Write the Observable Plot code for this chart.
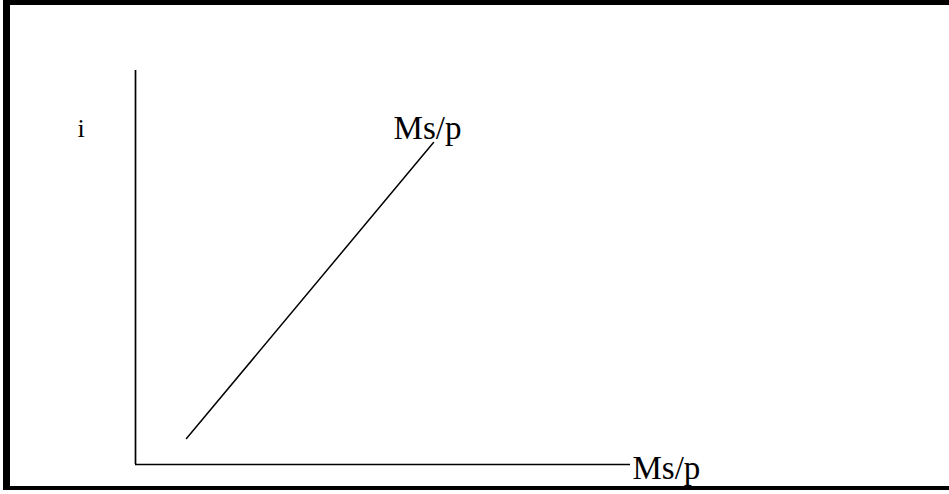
<!DOCTYPE html>
<html>
<head>
<meta charset="utf-8">
<script src="https://cdn.jsdelivr.net/npm/d3@7"></script>
<script src="https://cdn.jsdelivr.net/npm/@observablehq/plot@0.6"></script>
<style>
  html, body { margin: 0; padding: 0; background: #fff; }
  #wrap { position: relative; width: 949px; height: 494px; overflow: hidden; }
  #wrap svg { position: absolute; left: 0; top: 0; }
  #frame { position: absolute; left: 3px; top: 0; width: 946px; height: 490px;
           box-sizing: border-box; border-left: 7px solid #000; border-top: 5px solid #000;
           border-bottom: 4px solid #000; pointer-events: none; }
</style>
</head>
<body>
<div id="wrap"><div id="frame"></div></div>
<script>
const supplyQ = [1.03, 6.02];
const supplyI = [0.66, 8.17];
// Axis extents (data units)
const xMax = 10;
const yMax = 10;
// Labels
const yLabel = "i";
const curveLabel = "Ms/p";
const xLabel = "Ms/p";

const supply = supplyQ.map((q, k) => ({q, i: supplyI[k]}));

const chart = Plot.plot({
  width: 949,
  height: 494,
  marginLeft: 135,
  marginRight: 319,
  marginTop: 70,
  marginBottom: 30,
  x: {domain: [0, xMax], axis: null},
  y: {domain: [0, yMax], axis: null},
  style: {fontFamily: "'Liberation Serif', 'Times New Roman', serif", background: "transparent"},
  marks: [
    Plot.ruleX([0], {y1: 0, y2: yMax, stroke: "#000", strokeWidth: 1.7}),
    Plot.ruleY([0], {x1: 0, x2: xMax, stroke: "#000", strokeWidth: 1.7}),
    Plot.line(supply, {x: "q", y: "i", stroke: "#000", strokeWidth: 1.5}),
    Plot.text([supply[1]], {x: "q", y: "i", text: () => curveLabel, textAnchor: "middle",
      dx: -6, dy: -14, fontSize: 33, fill: "#000"}),
    Plot.text([{q: xMax, i: 0}], {x: "q", y: "i", text: () => xLabel, textAnchor: "start",
      dx: 2, dy: 4, fontSize: 33, fill: "#000"}),
    Plot.text([{q: -1.1, i: 8.5}], {x: "q", y: "i", text: () => yLabel, textAnchor: "middle",
      dy: -1, fontSize: 26, fill: "#000"})
  ]
});
document.getElementById("wrap").prepend(chart);
</script>
</body>
</html>
